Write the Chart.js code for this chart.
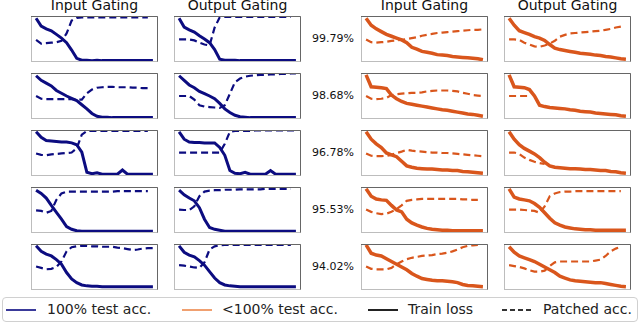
<!DOCTYPE html>
<html>
<head>
<meta charset="utf-8">
<script src="https://cdn.jsdelivr.net/npm/chart.js@4/dist/chart.umd.min.js"></script>
<style>
    body { margin: 0; width: 640px; height: 323px; position: relative; background: #fff; overflow: hidden;
           font-family: 'DejaVu Sans', sans-serif; color: #111; }
    canvas.panel { position: absolute; }
    .title { position: absolute; top: -3px; width: 160px; text-align: center; font-size: 14px; line-height: 16px; }
    .pct { position: absolute; left: 303px; width: 60px; text-align: center; font-size: 11px; line-height: 12px; }
    .legend { position: absolute; left: 2px; top: 297px; width: 634px; height: 23px; border: 1px solid #d0d0d0; border-radius: 4px; }
    .lg-line { position: absolute; top: 309px; height: 1.5px; }
    .lg-text { position: absolute; top: 301px; font-size: 14px; line-height: 16px; color: #222; }
</style>
</head>
<body>
<div class="legend"></div>
<script>
// x positions (fraction of panel width) shared by every curve
const xs = [0.04, 0.08, 0.12, 0.16, 0.20, 0.24, 0.28, 0.32, 0.36, 0.40, 0.44, 0.48,
            0.52, 0.56, 0.60, 0.64, 0.68, 0.72, 0.76, 0.80, 0.84, 0.88, 0.92, 0.96];

const colTitles = ['Input Gating', 'Output Gating', 'Input Gating', 'Output Gating'];
const rowPercents = ['99.79%', '98.68%', '96.78%', '95.53%', '94.02%'];

// row 1
const loss1a = [0.95,0.78,0.72,0.68,0.60,0.52,0.42,0.26,0.08,0.04,0.04,0.03,0.04,0.03,0.03,0.03,0.03,0.03,0.03,0.03,0.03,0.03,0.03,0.03];
const patch1a = [0.48,0.40,0.41,0.42,0.43,0.46,0.62,0.90,0.96,0.97,0.97,0.97,0.97,0.97,0.97,0.97,0.97,0.97,0.97,0.97,0.97,0.97,0.97,null];
const loss1b = [0.95,0.76,0.70,0.65,0.57,0.50,0.42,0.27,0.06,0.04,0.04,0.04,0.03,0.03,0.03,0.03,0.03,0.03,0.03,0.03,0.03,0.03,0.03,0.03];
const patch1b = [0.49,0.49,0.49,0.47,0.42,0.38,0.36,0.75,0.97,0.98,0.98,0.98,0.98,0.98,0.98,0.98,0.98,0.98,0.98,0.98,0.98,0.98,0.98,null];
const loss1c = [0.95,0.80,0.72,0.66,0.60,0.56,0.52,0.48,0.42,0.32,0.28,0.23,0.21,0.19,0.16,0.15,0.14,0.12,0.11,0.10,0.09,0.08,0.07,0.05];
const patch1c = [0.49,0.43,0.42,0.43,0.44,0.46,0.47,0.48,0.50,0.52,0.54,0.57,0.59,0.61,0.63,0.64,0.65,0.66,0.67,0.68,0.69,0.70,0.70,0.71];
const loss1d = [0.95,0.80,0.68,0.64,0.60,0.55,0.52,0.47,0.38,0.30,0.27,0.25,0.23,0.21,0.19,0.18,0.17,0.15,0.14,0.12,0.11,0.09,0.07,0.06];
const patch1d = [0.49,0.49,0.48,0.42,0.38,0.34,0.33,0.36,0.40,0.46,0.55,0.59,0.62,0.63,0.64,0.65,0.66,0.67,0.68,0.70,0.72,0.75,0.77,null];

// row 2
const loss2a = [0.94,0.84,0.78,0.72,0.62,0.56,0.50,0.45,0.40,0.31,0.22,0.12,0.06,0.04,0.04,0.03,0.03,0.03,0.03,0.03,0.03,0.03,0.03,0.03];
const patch2a = [0.50,0.44,0.43,0.43,0.43,0.43,0.43,0.43,0.42,0.42,0.56,0.64,0.68,0.69,0.70,0.70,0.69,0.69,0.69,0.68,0.68,0.67,0.67,null];
const loss2b = [0.94,0.84,0.74,0.68,0.60,0.55,0.50,0.44,0.34,0.22,0.14,0.08,0.05,0.04,0.03,0.03,0.03,0.03,0.03,0.03,0.03,0.03,0.03,0.03];
const patch2b = [0.50,0.50,0.50,0.42,0.30,0.27,0.26,0.25,0.24,0.30,0.55,0.80,0.88,0.92,0.94,0.95,0.96,0.96,0.97,0.97,0.98,0.98,0.99,0.99];
const loss2c = [0.96,0.70,0.69,0.68,0.66,0.52,0.44,0.38,0.34,0.32,0.30,0.28,0.26,0.24,0.22,0.20,0.19,0.17,0.15,0.13,0.11,0.10,0.08,0.06];
const patch2c = [0.50,0.44,0.43,0.44,0.46,0.52,0.54,0.55,0.56,0.57,0.57,0.58,0.60,0.61,0.62,0.62,0.62,0.61,0.60,0.57,0.55,0.52,0.51,0.50];
const loss2d = [0.96,0.70,0.69,0.68,0.64,0.50,0.30,0.27,0.25,0.24,0.23,0.22,0.20,0.19,0.17,0.16,0.15,0.13,0.12,0.11,0.10,0.09,0.07,0.06];
const patch2d = [0.50,0.50,0.50,0.50,0.50,null,null,null,null,null,null,null,null,null,null,null,null,null,null,null,null,null,null,null];

// row 3
const loss3a = [0.96,0.84,0.77,0.76,0.75,0.74,0.74,0.72,0.68,0.52,0.08,0.05,0.07,0.04,0.04,0.04,0.04,0.13,0.04,0.04,0.04,0.04,0.04,0.04];
const patch3a = [0.49,0.46,0.45,0.47,0.48,0.49,0.50,0.51,0.60,0.90,0.98,0.98,0.98,0.98,0.98,0.98,0.98,0.98,0.98,0.98,0.98,0.98,0.98,null];
const loss3b = [0.96,0.80,0.74,0.73,0.73,0.72,0.72,0.72,0.62,0.45,0.12,0.06,0.05,0.08,0.04,0.04,0.04,0.04,0.12,0.04,0.04,0.04,0.04,0.04];
const patch3b = [0.51,0.51,0.51,0.51,0.51,0.51,0.51,0.51,0.51,0.70,0.96,0.98,0.98,0.98,0.98,0.99,0.99,0.99,0.99,0.99,0.99,0.99,0.99,0.99];
const loss3c = [0.96,0.80,0.70,0.62,0.50,0.46,0.42,0.32,0.22,0.19,0.17,0.16,0.15,0.15,0.14,0.13,0.13,0.12,0.12,0.10,0.09,0.08,0.07,0.06];
const patch3c = [0.49,0.44,0.43,0.43,0.44,0.46,0.50,0.53,0.57,0.55,0.54,0.53,0.52,0.51,0.51,0.50,0.50,0.49,0.48,0.47,0.46,0.45,0.44,0.43];
const loss3d = [0.96,0.80,0.68,0.60,0.54,0.48,0.40,0.30,0.22,0.19,0.18,0.17,0.16,0.16,0.15,0.14,0.14,0.13,0.12,0.12,0.10,0.09,0.07,0.06];
const patch3d = [0.51,0.51,0.48,0.40,0.35,0.31,0.28,0.26,null,null,null,null,null,null,null,null,null,null,null,null,null,null,null,null];

// row 4
const loss4a = [0.93,0.86,0.76,0.60,0.45,0.30,0.14,0.08,0.05,0.04,0.04,0.04,0.04,0.04,0.04,0.04,0.04,0.04,0.04,0.04,0.04,0.04,0.04,0.04];
const patch4a = [0.49,0.48,0.44,0.48,0.72,0.86,0.90,0.90,0.90,0.90,0.90,0.90,0.90,0.90,0.90,0.90,0.91,0.91,0.91,0.91,0.91,0.91,0.91,null];
const loss4b = [0.93,0.83,0.76,0.70,0.55,0.30,0.12,0.08,0.06,0.04,0.04,0.04,0.04,0.04,0.04,0.04,0.04,0.04,0.04,0.04,0.04,0.04,0.04,0.04];
const patch4b = [0.51,0.50,0.50,0.58,0.80,0.90,0.92,0.93,0.93,0.94,0.94,0.94,0.95,0.95,0.95,0.95,0.95,0.96,0.96,0.96,0.96,0.96,0.96,null];
const loss4c = [0.96,0.80,0.74,0.72,0.71,0.60,0.50,0.46,0.30,0.22,0.17,0.13,0.10,0.08,0.07,0.06,0.06,0.05,0.05,0.05,0.05,0.05,0.05,0.05];
const patch4c = [0.51,0.46,0.43,0.41,0.42,0.46,0.52,0.60,0.70,0.72,0.73,0.74,0.74,0.74,0.74,0.74,0.74,0.74,0.74,0.73,0.73,0.72,0.72,null];
const loss4d = [0.96,0.78,0.74,0.72,0.70,0.64,0.56,0.44,0.32,0.22,0.17,0.13,0.11,0.09,0.08,0.07,0.07,0.06,0.06,0.06,0.06,0.06,0.06,0.06];
const patch4d = [0.51,0.51,0.51,0.50,0.49,0.48,0.44,0.58,0.80,0.86,0.89,0.90,0.90,0.91,0.91,0.91,0.91,0.91,0.91,0.91,0.91,0.91,0.91,null];

// row 5
const loss5a = [0.96,0.84,0.78,0.74,0.66,0.56,0.38,0.24,0.16,0.11,0.09,0.08,0.08,0.07,0.07,0.07,0.07,0.07,0.07,0.07,0.07,0.07,0.07,0.07];
const patch5a = [0.51,0.48,0.45,0.46,0.50,0.62,0.84,0.93,0.95,0.96,0.96,0.95,0.95,0.94,0.94,0.94,0.92,0.91,0.89,0.87,0.88,0.90,0.91,0.91];
const loss5b = [0.96,0.82,0.76,0.72,0.64,0.54,0.40,0.26,0.16,0.11,0.09,0.08,0.07,0.07,0.07,0.07,0.07,0.07,0.07,0.07,0.07,0.07,0.07,0.07];
const patch5b = [0.54,0.53,0.51,0.49,0.48,0.60,0.88,0.95,0.97,0.98,0.98,0.98,0.98,0.98,0.98,0.98,0.98,0.98,0.98,0.98,0.98,0.98,0.98,null];
const loss5c = [0.98,0.80,0.76,0.74,0.68,0.62,0.56,0.50,0.44,0.36,0.30,0.25,0.23,0.21,0.20,0.20,0.19,0.18,0.16,0.12,0.10,0.09,0.08,0.07];
const patch5c = [0.51,0.46,0.45,0.45,0.45,0.48,0.56,0.62,0.67,0.70,0.72,0.74,0.75,0.76,0.78,0.79,0.81,0.84,0.88,0.93,0.96,0.97,0.98,null];
const loss5d = [0.94,0.82,0.74,0.70,0.66,0.62,0.56,0.50,0.44,0.38,0.30,0.26,0.22,0.20,0.19,0.18,0.17,0.16,0.16,0.14,0.12,0.10,0.08,0.07];
const patch5d = [0.54,0.52,0.50,0.47,0.43,0.40,0.40,0.42,0.52,0.60,0.62,0.62,0.62,0.62,0.62,0.62,0.62,0.64,0.66,0.74,0.84,0.90,0.94,null];

const panels = [
    [[loss1a, patch1a], [loss1b, patch1b], [loss1c, patch1c], [loss1d, patch1d]],
    [[loss2a, patch2a], [loss2b, patch2b], [loss2c, patch2c], [loss2d, patch2d]],
    [[loss3a, patch3a], [loss3b, patch3b], [loss3c, patch3c], [loss3d, patch3d]],
    [[loss4a, patch4a], [loss4b, patch4b], [loss4c, patch4c], [loss4d, patch4d]],
    [[loss5a, patch5a], [loss5b, patch5b], [loss5c, patch5c], [loss5d, patch5d]]
];

const NAVY = '#0c0c80';
const ORANGE = '#d9561c';
const colLeft = [31, 174, 361, 504];
const rowTop = [16, 73, 130, 187, 244];
const panelW = 127, panelH = 46;

// 패널 테두리
const framePlugin = {
    id: 'frame',
    afterDraw(chart) {
        const { ctx, chartArea: a } = chart;
        ctx.save();
        ctx.lineWidth = 1;
        ctx.strokeStyle = '#bdbdbd';
        ctx.strokeRect(a.left + 0.5, a.top + 0.5, a.width - 1, a.height - 1);
        ctx.strokeStyle = '#666';
        ctx.beginPath();
        ctx.moveTo(a.left, a.top + 0.5);
        ctx.lineTo(a.right - 0.5, a.top + 0.5);
        ctx.lineTo(a.right - 0.5, a.bottom - 0.5);
        ctx.stroke();
        ctx.restore();
    }
};

const toPoints = arr => xs.map((x, i) => ({ x: x, y: arr[i] }));

colTitles.forEach((t, c) => {
    const d = document.createElement('div');
    d.className = 'title';
    d.style.left = (colLeft[c] + panelW / 2 - 80) + 'px';
    d.innerText = t;
    document.body.appendChild(d);
});

rowPercents.forEach((p, r) => {
    const d = document.createElement('div');
    d.className = 'pct';
    d.style.top = (rowTop[r] + panelH / 2 - 6) + 'px';
    d.innerText = p;
    document.body.appendChild(d);
});

panels.forEach((row, r) => {
    row.forEach(([loss, patch], c) => {
        const canvas = document.createElement('canvas');
        canvas.className = 'panel';
        canvas.width = panelW;
        canvas.height = panelH;
        canvas.style.left = colLeft[c] + 'px';
        canvas.style.top = rowTop[r] + 'px';
        document.body.appendChild(canvas);
        const color = c < 2 ? NAVY : ORANGE;
        new Chart(canvas.getContext('2d'), {
            type: 'line',
            data: {
                datasets: [
                    { label: 'Train loss', data: toPoints(loss), borderColor: color, borderWidth: c < 2 ? 3 : 3.5, spanGaps: false },
                    { label: 'Patched acc.', data: toPoints(patch), borderColor: color, borderWidth: 2.2, borderDash: [7, 4], spanGaps: false }
                ]
            },
            options: {
                responsive: false,
                animation: false,
                events: [],
                layout: { padding: 0 },
                elements: { point: { radius: 0 }, line: { tension: 0 } },
                plugins: { legend: { display: false }, tooltip: { enabled: false } },
                scales: {
                    x: { type: 'linear', min: 0, max: 1, display: false },
                    y: { min: 0, max: 1, display: false }
                }
            },
            plugins: [framePlugin]
        });
    });
});

// 범례
const legendItems = [
    { text: '100% test acc.', color: '#3a3a9a', dash: false, lineX: 6, textX: 47 },
    { text: '<100% test acc.', color: '#f0a070', dash: false, lineX: 182, textX: 222 },
    { text: 'Train loss', color: '#222', dash: false, lineX: 368, textX: 408 },
    { text: 'Patched acc.', color: '#333', dash: true, lineX: 502, textX: 543 }
];
legendItems.forEach(item => {
    const line = document.createElement('div');
    line.className = 'lg-line';
    line.style.left = item.lineX + 'px';
    line.style.width = '30px';
    line.style.background = item.dash
        ? `repeating-linear-gradient(90deg, ${item.color} 0 5px, transparent 5px 8px)`
        : item.color;
    document.body.appendChild(line);
    const label = document.createElement('div');
    label.className = 'lg-text';
    label.style.left = item.textX + 'px';
    label.innerText = item.text;
    document.body.appendChild(label);
});
</script>
</body>
</html>
